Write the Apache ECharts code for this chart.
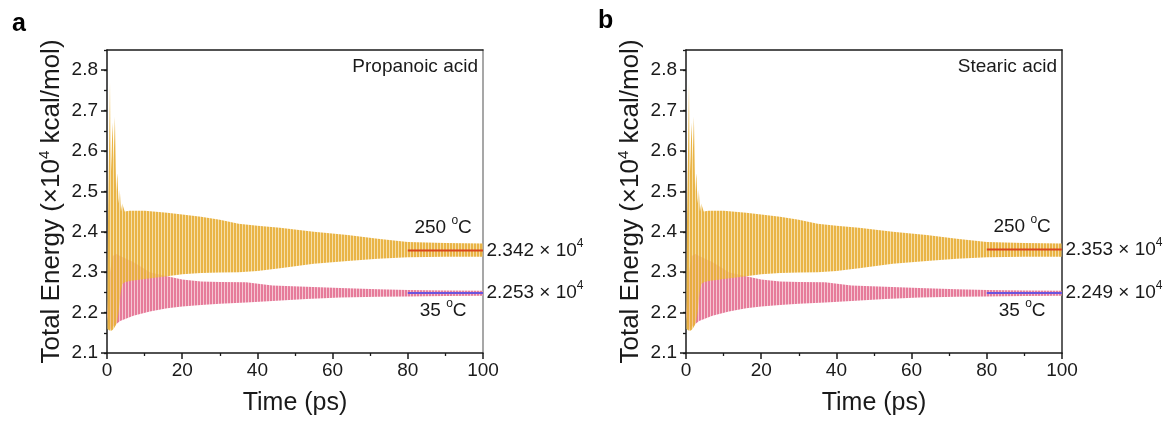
<!DOCTYPE html>
<html><head><meta charset="utf-8">
<script src="https://cdn.jsdelivr.net/npm/echarts@6/dist/echarts.min.js"></script>
<style>html,body{margin:0;padding:0;background:#fff}#c{width:1172px;height:423px}</style>
</head><body><div id="c"></div>
<script>
// ---------- data ----------
// Panel a: Propanoic acid
const hotTimeA  = [0, 0.8, 1.12, 1.45, 1.78, 2.1, 2.42, 2.75, 3.07, 3.4, 3.72, 4.05, 4.7, 6, 10, 16, 20, 25, 30, 35, 40, 46, 55, 64, 72, 80, 90, 100];
const hotUpperA = [2.25, 2.77, 2.55, 2.67, 2.58, 2.685, 2.50, 2.545, 2.47, 2.505, 2.45, 2.47, 2.45, 2.452, 2.452, 2.447, 2.443, 2.437, 2.43, 2.42, 2.415, 2.41, 2.40, 2.392, 2.383, 2.375, 2.372, 2.371];
const hotLowerA = [2.16, 2.155, 2.155, 2.157, 2.16, 2.165, 2.17, 2.18, 2.2, 2.23, 2.255, 2.27, 2.275, 2.278, 2.283, 2.29, 2.295, 2.298, 2.299, 2.30, 2.303, 2.31, 2.321, 2.328, 2.333, 2.337, 2.338, 2.338];
const coolTimeA  = [0, 0.8, 1.5, 2.5, 3.5, 7, 11.4, 16, 20, 25, 30, 37, 44, 53, 62, 72, 80, 90, 100];
const coolUpperA = [2.2, 2.30, 2.34, 2.345, 2.34, 2.325, 2.30, 2.29, 2.282, 2.277, 2.276, 2.275, 2.267, 2.264, 2.261, 2.258, 2.256, 2.255, 2.254];
const coolLowerA = [2.19, 2.157, 2.165, 2.172, 2.179, 2.192, 2.2025, 2.211, 2.215, 2.219, 2.222, 2.225, 2.229, 2.2335, 2.2375, 2.239, 2.24, 2.241, 2.242];
const meanLineA  = [2.354, 2.2485];
const meanTextA  = ['2.342', '2.253'];
// Panel b: Stearic acid
const hotTimeB  = [0, 0.8, 1.12, 1.45, 1.78, 2.1, 2.42, 2.75, 3.07, 3.4, 3.72, 4.05, 4.7, 6, 10, 16, 20, 25, 30, 35, 40, 46, 55, 64, 72, 80, 90, 100];
const hotUpperB = [2.25, 2.77, 2.55, 2.67, 2.58, 2.685, 2.50, 2.545, 2.47, 2.505, 2.45, 2.47, 2.45, 2.452, 2.452, 2.447, 2.443, 2.437, 2.43, 2.42, 2.415, 2.41, 2.40, 2.392, 2.383, 2.375, 2.372, 2.371];
const hotLowerB = [2.16, 2.155, 2.155, 2.157, 2.16, 2.165, 2.17, 2.18, 2.2, 2.23, 2.255, 2.27, 2.275, 2.278, 2.283, 2.29, 2.295, 2.298, 2.299, 2.30, 2.303, 2.31, 2.321, 2.328, 2.333, 2.337, 2.338, 2.338];
const coolTimeB  = [0, 0.8, 1.5, 2.5, 3.5, 7, 11.4, 16, 20, 25, 30, 37, 44, 53, 62, 72, 80, 90, 100];
const coolUpperB = [2.2, 2.30, 2.34, 2.345, 2.34, 2.325, 2.30, 2.29, 2.282, 2.277, 2.276, 2.275, 2.267, 2.264, 2.261, 2.258, 2.256, 2.255, 2.254];
const coolLowerB = [2.19, 2.157, 2.165, 2.172, 2.179, 2.192, 2.2025, 2.211, 2.215, 2.219, 2.222, 2.225, 2.229, 2.2335, 2.2375, 2.239, 2.24, 2.241, 2.242];
const meanLineB  = [2.356, 2.2485];
const meanTextB  = ['2.353', '2.249'];
const tempLabels = ['250', '35'];
const meanStart = 80, meanEnd = 100;
const panelTitles = ['Propanoic acid', 'Stearic acid'];
const panelLetters = ['a', 'b'];
// ------------------------------------------------

const FONT = "'Liberation Sans', Arial, Helvetica, sans-serif";
const INK = '#1a1a1a';

function stripes(c1, c2) {
  const cv = document.createElement('canvas');
  cv.width = 3; cv.height = 8;
  const g = cv.getContext('2d');
  g.fillStyle = c1; g.fillRect(0, 0, 2, 8);
  g.fillStyle = c2; g.fillRect(2, 0, 1, 8);
  return { image: cv, repeat: 'repeat' };
}
const hotFill = stripes('rgba(232,176,60,0.95)', 'rgba(238,194,96,0.55)');
const coolFill = stripes('rgba(228,112,145,0.92)', 'rgba(238,160,182,0.60)');

const rich = {
  n: { fontSize: 19, fontFamily: FONT, color: INK, lineHeight: 26 },
  s: { fontSize: 12, fontFamily: FONT, color: INK, lineHeight: 12, verticalAlign: 'top' }
};

const grids = [], xAxes = [], yAxes = [], series = [];

// envelope band drawn as one polygon through the axis scales
function band(p, times, upper, lower, fill, z) {
  series.push({
    type: 'custom', xAxisIndex: 2 * p, yAxisIndex: 3 * p, z: z, silent: true,
    encode: { x: 0, y: [1, 2] },
    data: times.map((t, i) => [t, upper[i], lower[i]]),
    renderItem: function (params, api) {
      if (params.dataIndexInside !== 0) return null;
      const n = params.dataInsideLength;
      const top = [], bot = [];
      for (let j = 0; j < n; j++) {
        const t = api.value(0, j);
        top.push(api.coord([t, api.value(1, j)]));
        bot.push(api.coord([t, api.value(2, j)]));
      }
      return {
        type: 'polygon',
        shape: { points: top.concat(bot.reverse()) },
        style: { fill: fill, stroke: null }
      };
    }
  });
}

function meanLine(p, m, txt, temp, color, above) {
  series.push({
    type: 'line', xAxisIndex: 2 * p, yAxisIndex: 3 * p, z: 6,
    data: [[meanStart, m], [meanEnd, m]], symbol: 'none', silent: true,
    lineStyle: { color: color, width: 2 },
    markPoint: {
      symbol: 'rect', symbolSize: 1, silent: true,
      itemStyle: { color: 'rgba(0,0,0,0)' },
      label: { show: true, rich: rich },
      data: [
        { coord: [meanEnd, m], label: { position: 'right', distance: 3, formatter: '{n|' + txt + ' × 10}{s|4}' } },
        { coord: [89.4, m], label: { position: 'inside', offset: [0, above ? -23 : 18], formatter: '{n|' + temp + ' }{s|o}{n|C}' } }
      ]
    }
  });
}

function panel(p, left, d, rightColor) {
  const rect = { left: left, top: 50, width: 376, height: 303 };
  grids.push(Object.assign({}, rect), Object.assign({}, rect));
  xAxes.push({
    gridIndex: 2 * p, type: 'value', min: 0, max: 100, interval: 20, position: 'bottom',
    axisLine: { onZero: false, lineStyle: { color: INK, width: 1.5 } },
    axisTick: { show: true, length: 6, lineStyle: { color: INK, width: 1.5 } },
    minorTick: { show: true, splitNumber: 2, length: 3, lineStyle: { color: INK, width: 1.3 } },
    splitLine: { show: false }, minorSplitLine: { show: false },
    axisLabel: { fontSize: 19, color: INK, fontFamily: FONT, margin: 8 },
    name: 'Time (ps)', nameLocation: 'middle', nameGap: 38,
    nameTextStyle: { fontSize: 25, color: INK, fontFamily: FONT }
  });
  xAxes.push({
    gridIndex: 2 * p + 1, type: 'value', min: 0, max: 100, position: 'top',
    axisLine: { onZero: false, lineStyle: { color: INK, width: 1.5 } },
    axisTick: { show: false }, axisLabel: { show: false }, splitLine: { show: false }
  });
  yAxes.push({
    gridIndex: 2 * p, type: 'value', min: 2.1, max: 2.85, interval: 0.1, position: 'left',
    axisLine: { show: true, onZero: false, lineStyle: { color: INK, width: 1.5 } },
    axisTick: { show: true, length: 6, lineStyle: { color: INK, width: 1.5 } },
    splitLine: { show: false },
    axisLabel: { fontSize: 19, color: INK, fontFamily: FONT, margin: 9, showMaxLabel: false,
      formatter: v => v.toFixed(1) },
    name: '{n|Total Energy (×10}{s|4}{n| kcal/mol)}', nameLocation: 'middle', nameGap: 40,
    nameTextStyle: { rich: {
      n: { fontSize: 26, fontFamily: FONT, color: INK, lineHeight: 30 },
      s: { fontSize: 15, fontFamily: FONT, color: INK, lineHeight: 15, verticalAlign: 'top' } } }
  });
  yAxes.push({
    gridIndex: 2 * p + 1, type: 'value', min: 2.1, max: 2.85, interval: 0.05, position: 'left',
    axisLine: { show: false },
    axisTick: { show: true, length: 3, lineStyle: { color: INK, width: 1.3 } },
    axisLabel: { show: false }, splitLine: { show: false }
  });
  yAxes.push({
    gridIndex: 2 * p + 1, type: 'value', min: 2.1, max: 2.85, position: 'right',
    axisLine: { show: true, onZero: false, lineStyle: { color: rightColor, width: 1.5 } },
    axisTick: { show: false }, axisLabel: { show: false }, splitLine: { show: false }
  });
  band(p, d.coolT, d.coolU, d.coolL, coolFill, 2);
  band(p, d.hotT, d.hotU, d.hotL, hotFill, 3);
  meanLine(p, d.mean[0], d.meanTxt[0], tempLabels[0], '#D8461C', true);
  meanLine(p, d.mean[1], d.meanTxt[1], tempLabels[1], '#6A55DE', false);
}

panel(0, 107, { hotT: hotTimeA, hotU: hotUpperA, hotL: hotLowerA, coolT: coolTimeA, coolU: coolUpperA, coolL: coolLowerA, mean: meanLineA, meanTxt: meanTextA }, '#8a8a8a');
panel(1, 686, { hotT: hotTimeB, hotU: hotUpperB, hotL: hotLowerB, coolT: coolTimeB, coolU: coolUpperB, coolL: coolLowerB, mean: meanLineB, meanTxt: meanTextB }, '#2a2a2a');

const graphics = [
  { type: 'text', z: 100, left: 12, top: 12, style: { text: panelLetters[0], font: 'bold 25px ' + FONT, fill: '#000' } },
  { type: 'text', z: 100, left: 598, top: 9, style: { text: panelLetters[1], font: 'bold 25px ' + FONT, fill: '#000' } },
  { type: 'text', z: 100, right: 1172 - 478, top: 57, style: { text: panelTitles[0], font: '19px ' + FONT, fill: INK } },
  { type: 'text', z: 100, right: 1172 - 1057, top: 57, style: { text: panelTitles[1], font: '19px ' + FONT, fill: INK } }
];

const chart = echarts.init(document.getElementById('c'), null, { renderer: 'canvas' });
chart.setOption({
  animation: false,
  backgroundColor: '#fff',
  grid: grids, xAxis: xAxes, yAxis: yAxes, series: series, graphic: graphics
});
</script></body></html>
